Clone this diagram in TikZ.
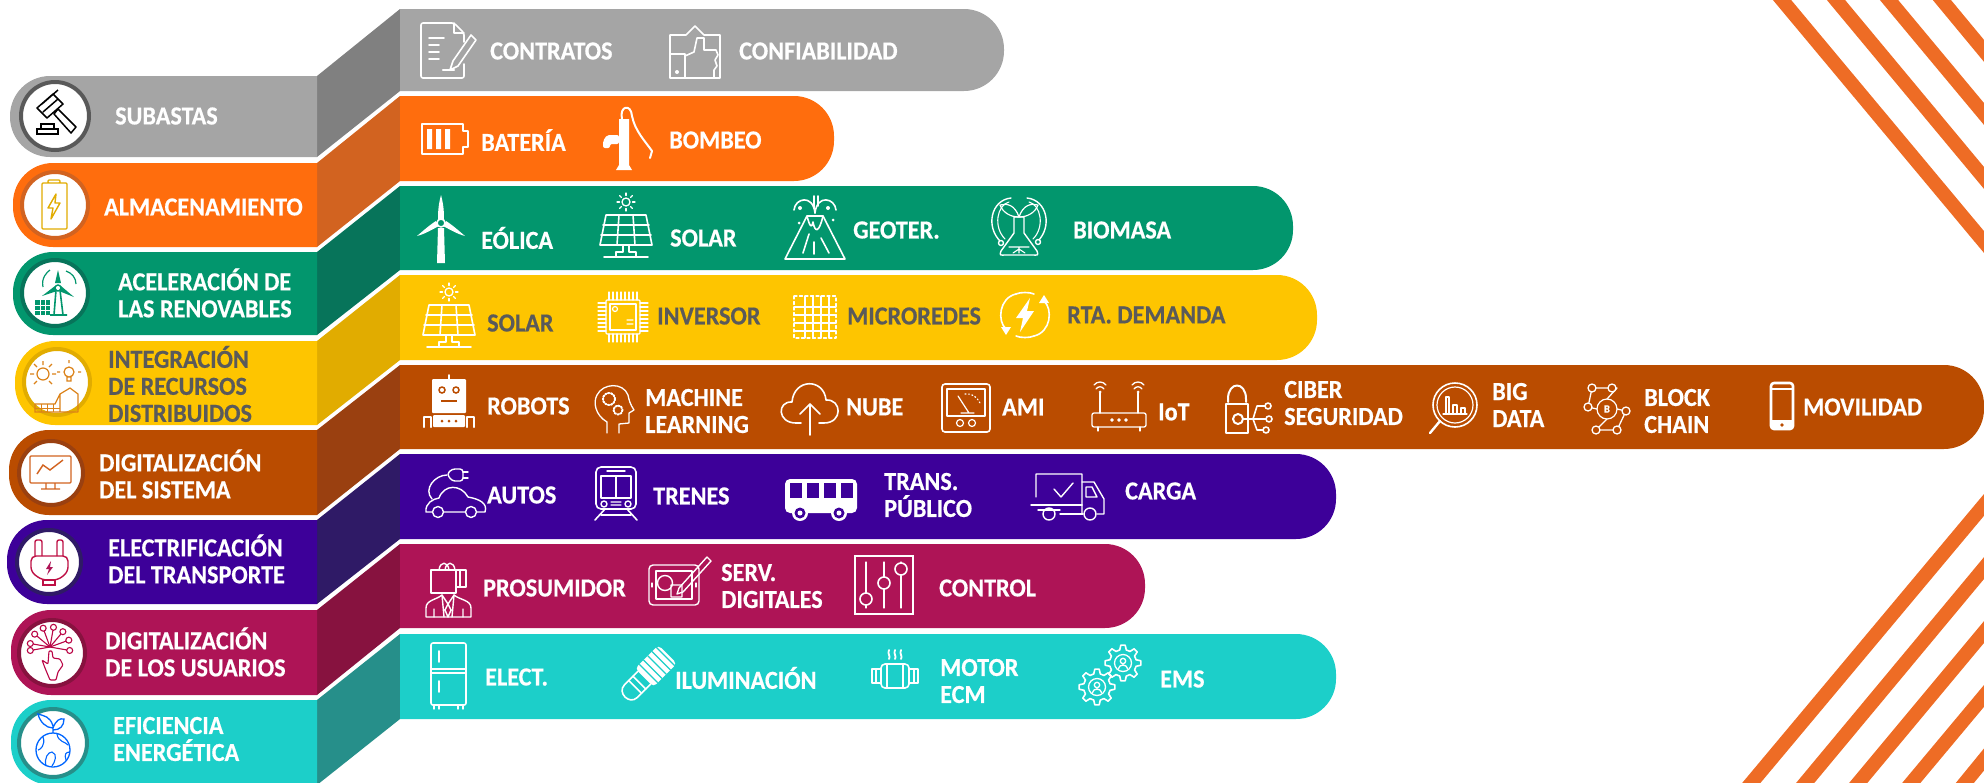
\documentclass[tikz,border=0pt]{standalone}
\usepackage{fontspec}
\setmainfont{Carlito}[FakeStretch=0.93,BoldFeatures={FakeBold=0.5}]
\usetikzlibrary{positioning}

\definecolor{grayband}{HTML}{A5A5A5}
\definecolor{grayside}{HTML}{808080}
\definecolor{orangeband}{HTML}{FF6D0D}
\definecolor{orangeside}{HTML}{D26320}
\definecolor{greenband}{HTML}{02966D}
\definecolor{greenside}{HTML}{07745A}
\definecolor{yellowband}{HTML}{FEC500}
\definecolor{yellowside}{HTML}{E1AC00}
\definecolor{brownband}{HTML}{BA4C00}
\definecolor{brownside}{HTML}{9A4010}
\definecolor{purpleband}{HTML}{3D0099}
\definecolor{purpleside}{HTML}{2F1A66}
\definecolor{magentaband}{HTML}{AE1456}
\definecolor{magentaside}{HTML}{87123F}
\definecolor{tealband}{HTML}{1CCFC9}
\definecolor{tealside}{HTML}{268F8A}
\definecolor{labelgray}{HTML}{5A5A5A}
\definecolor{stripecolor}{HTML}{EE6C25}

\tikzset{
  pill/.style={rounded corners=40pt},
  lbl/.style={anchor=west,inner sep=0pt,align=left,text=white,font=\fontsize{26}{27}\selectfont\bfseries},
  lbldark/.style={lbl,text=labelgray},
  ico/.style={draw=white,line width=1.6pt,line join=round,line cap=round},
  disc/.style={fill=white,line width=4pt},
  stripe/.style={draw=stripecolor,line width=14pt},
  pics/docicon/.style={code={
    \draw[ico,rounded corners=2pt] (15,-8) -- (15,-17) -- (5,-27) -- (-28,-27) -- (-28,28) -- (15,28) -- (15,14);
    \draw[ico] (5,-27) -- (5,-17) -- (15,-17);
    \draw[ico] (-20,-12) -- (-5,-12) (-20,-5) -- (-10,-5) (-20,2) -- (-10,2) (-20,9) -- (-10,9);
    \draw[ico,line width=2.4pt] (-6,20) -- (5,20);
    \draw[ico] (22,-15) -- (27,-10) -- (9,16) -- (1,20) -- (4,11) -- cycle;
  }},
  pics/thumbicon/.style={code={
    \draw[ico] (-25,-17) -- (-9,-17) -- (0,-26) -- (9,-17) -- (25,-17) -- (25,26) -- (-25,26) -- cycle;
    \draw[ico] (-25,2) -- (-10,2) -- (-10,26);
    \draw[ico] (-10,4) -- (-1,0) -- (2,-14) -- (9,-14) -- (9,-2) -- (21,-2) -- (23,3) -- (20,8) -- (22,14) -- (19,18) -- (19,26);
    \fill[white] (-18,20) circle (2);
  }},
  pics/battericon/.style={code={
    \draw[ico] (-25,-15) -- (16,-15) -- (16,-8) -- (21,-8) -- (21,8) -- (16,8) -- (16,15) -- (-25,15) -- cycle;
    \fill[white] (-20,-10) rectangle (-15,10) (-11,-10) rectangle (-6,10) (-2,-10) rectangle (3,10);
  }},
  pics/pumpicon/.style={code={
    \fill[white] (-6,-22) -- (4,-22) -- (4,24) -- (7,29) -- (-9,29) -- (-6,24) -- cycle;
    \fill[white,rounded corners=2pt] (-6,-6) -- (-18,-6) -- (-22,0) -- (-22,7) -- (-15,7) -- (-15,3) -- (-6,3) -- cycle;
    \draw[ico,line width=2pt] (-3,-22) .. controls (-6,-35) and (6,-38) .. (7,-25) .. controls (10,-10) and (20,0) .. (27,10) -- (25,17);
  }},
  pics/turbicon/.style={code={
    \fill[white] (-3,0) -- (3,0) -- (4,35) -- (-4,35) -- cycle;
    \fill[white] (0,-33) .. controls (3,-22) and (3,-14) .. (3,-8) -- (-3,-8) .. controls (-3,-14) and (-3,-22) .. (0,-33);
    \fill[white] (-24,8) .. controls (-17,2) and (-10,-4) .. (-5,-7) -- (-2,-2) .. controls (-8,1) and (-16,6) .. (-24,8);
    \fill[white] (24,8) .. controls (17,2) and (10,-4) .. (5,-7) -- (2,-2) .. controls (8,1) and (16,6) .. (24,8);
    \draw[ico,fill=greenband,draw=white] (0,-5) circle (4);
  }},
  pics/solaricon/.style={code={
    \draw[ico,line width=1.3pt] (0,-26) circle (4);
    \foreach \a in {0,45,...,315} \draw[ico,line width=1.3pt] (0,-26) ++(\a:6.5) -- ++(\a:2.5);
    \draw[ico] (-20,-13) -- (20,-13) -- (26,17) -- (-26,17) -- cycle;
    \draw[ico] (-23,-3) -- (23,-3) (-25,7) -- (25,7) (-7,-13) -- (-9,17) (7,-13) -- (9,17);
    \draw[ico] (-3,17) -- (-3,24) -- (-10,24) -- (-10,28) (3,17) -- (3,24) -- (10,24) -- (10,28);
    \draw[ico] (-22,29) -- (22,29);
  }},
  pics/volcanoicon/.style={code={
    \draw[ico] (-30,31) -- (-8,-12) -- (8,-12) -- (30,31) -- cycle;
    \draw[ico] (-8,-12) .. controls (-5,0) and (-3,0) .. (-2,-6) .. controls (0,5) and (4,5) .. (8,-12);
    \draw[ico] (-12,25) -- (-6,6) (-1,14) -- (-1,26) (6,10) -- (14,25);
    \draw[ico] (0,-15) .. controls (-2,-34) and (-20,-30) .. (-21,-18);
    \draw[ico] (0,-15) .. controls (2,-34) and (20,-30) .. (21,-18);
    \draw[ico] (-1,-20) -- (-1,-32) (3,-22) -- (3,-32);
    \fill[white] (-15,-20) circle (2) (13,-20) circle (2) (18,-8) circle (1.5) (-16,-5) circle (1.5);
  }},
  pics/biomassicon/.style={code={
    \draw[ico,line width=1.4pt] (-18,17) .. controls (-34,2) and (-28,-25) .. (-8,-27) (8,-27) .. controls (28,-25) and (34,2) .. (18,17);
    \draw[ico,line width=1.1pt] (-14,14) .. controls (-26,2) and (-22,-20) .. (-10,-23) (10,-23) .. controls (22,-20) and (26,2) .. (14,14);
    \draw[ico,line width=1.4pt,fill=greenband] (-18,18) circle (2.5) (19,17) circle (2.5);
    \draw[ico,line width=1.4pt] (-5,-8) -- (-5,8) -- (-18,26) .. controls (-20,31) and (-18,30) .. (-14,30) -- (14,30) .. controls (18,30) and (20,31) .. (18,26) -- (5,8) -- (5,-8) -- cycle;
    \draw[ico,line width=1.2pt] (0,-8) .. controls (-4,-20) and (-12,-22) .. (-19,-20) .. controls (-16,-12) and (-8,-8) .. (0,-8) .. controls (8,-8) and (16,-12) .. (19,-20) .. controls (12,-22) and (4,-20) .. (0,-8);
    \draw[ico,line width=1.1pt] (-10,22) -- (10,22) (0,22) -- (0,28) (-6,28) -- (0,24) -- (6,28);
  }},
  pics/chipicon/.style={code={
    \draw[ico,line width=1.2pt,rounded corners=1pt] (-17,-17) rectangle (17,17);
    \draw[ico,line width=1.2pt] (-13,-13) rectangle (13,13);
    \draw[ico,line width=1.2pt] (-8,-8) circle (2.5) (4,3) -- (10,3) (4,7) -- (10,7);
    \foreach \p in {-14,-10,...,14} {
      \draw[ico,line width=1.1pt] (\p,-17) -- (\p,-25) (\p,17) -- (\p,25);
      \draw[ico,line width=1.1pt] (-17,\p) -- (-25,\p) (17,\p) -- (25,\p);
    }
  }},
  pics/gridicon/.style={code={
    \draw[ico,line width=1.3pt,dash pattern=on 3pt off 2.5pt] (-21,-21) rectangle (21,21);
    \foreach \p in {-10,-2,6,14} \draw[ico,line width=1.1pt] (\p,-21) -- (\p,21) (-21,\p) -- (21,\p);
  }},
  pics/demandicon/.style={code={
    \draw[ico] (-9,-21) .. controls (-26,-17) and (-28,6) .. (-19,14);
    \draw[ico] (9,21) .. controls (26,17) and (28,-6) .. (19,-14);
    \draw[ico] (-9,21) .. controls (-5,23) and (5,23) .. (9,21) (-9,-21) .. controls (-5,-23) and (5,-23) .. (9,-21);
    \fill[white] (-24,12) -- (-14,12) -- (-19,20) -- cycle (24,-12) -- (14,-12) -- (19,-20) -- cycle;
    \fill[white] (5,-17) -- (-9,3) -- (-2,3) -- (-5,17) -- (9,-4) -- (2,-4) -- cycle;
  }},
  pics/roboticon/.style={code={
    \draw[ico] (0,-26) -- (0,-21);
    \fill[white,rounded corners=1pt] (-17,-22) rectangle (17,12);
    \draw[brownband,line width=1.5pt] (-7,-11) circle (3) (7,-11) circle (3);
    \draw[brownband,line width=2pt] (-8,0) -- (8,0);
    \fill[white,rounded corners=1pt] (-16,14) rectangle (16,26);
    \fill[brownband] (-7,20) circle (1.5) (0,20) circle (1.5) (7,20) circle (1.5);
    \draw[ico,line width=2.2pt] (-25,26) -- (-25,16) -- (-18,16) -- (-18,26) (25,26) -- (25,16) -- (18,16) -- (18,26);
  }},
  pics/headicon/.style={code={
    \draw[ico,line width=1.3pt] (-7,25) -- (-7,14) .. controls (-19,7) and (-21,-6) .. (-17,-13) .. controls (-11,-25) and (9,-26) .. (14,-13) .. controls (15,-8) and (16,-4) .. (20,2) -- (15,5) -- (15,15) -- (5,16) -- (5,25);
    \draw[ico,line width=2pt,dash pattern=on 1.5pt off 1.5pt] (-5,-9) circle (6) (4,2) circle (4.5);
  }},
  pics/cloudicon/.style={code={
    \draw[ico] (-9,15) -- (-14,15) .. controls (-33,15) and (-33,-7) .. (-18,-6) .. controls (-16,-30) and (14,-30) .. (16,-8) .. controls (32,-9) and (33,15) .. (14,15) -- (9,15);
    \draw[ico] (0,27) -- (0,-4) (-10,6) -- (0,-4) -- (10,6);
  }},
  pics/metericon/.style={code={
    \draw[ico,rounded corners=3pt] (-24,-24) rectangle (24,24);
    \draw[ico,line width=1.2pt] (-19,-19) rectangle (19,8);
    \draw[ico,line width=1.2pt] (-8,-12) -- (3,5) (-5,5) -- (8,5);
    \draw[ico,line width=1.2pt,dash pattern=on 1pt off 2.5pt] (-1,-14) .. controls (6,-15) and (11,-11) .. (14,-5);
    \draw[ico,line width=1.2pt] (-6,15) circle (3.5) (6,15) circle (3.5);
  }},
  pics/routericon/.style={code={
    \draw[ico,line width=1.3pt] (-19,-12) -- (-19,8) (19,-12) -- (19,8);
    \foreach \x in {-19,19} {
      \draw[ico,line width=1.3pt] (\x-6,-20) .. controls (\x-3,-24) and (\x+3,-24) .. (\x+6,-20);
      \draw[ico,line width=1.3pt] (\x-4,-16) .. controls (\x-2,-19) and (\x+2,-19) .. (\x+4,-16);
      \fill[white] (\x,-13) circle (1.5);
    }
    \draw[ico,line width=1.3pt,rounded corners=2pt] (-27,8) rectangle (27,22);
    \draw[ico,line width=1.2pt] (-7,15) circle (1.2) (0,15) circle (1.2) (7,15) circle (1.2);
    \draw[ico,line width=1.3pt] (-21,22) -- (-21,26) (21,22) -- (21,26);
  }},
  pics/lockicon/.style={code={
    \draw[ico,line width=2pt] (-21,-8) -- (-21,-11) .. controls (-21,-29) and (-3,-29) .. (-3,-11) -- (-3,-8);
    \draw[ico,line width=2pt] (-23,-6) rectangle (-1,23);
    \draw[ico,line width=2pt] (-11,9) circle (5);
    \draw[ico] (-6,9) -- (17,9) (4,9) -- (8,-4) -- (16,-4) (4,9) -- (8,20) -- (14,20);
    \draw[ico,fill=brownband] (20,9) circle (3) (19,-4) circle (3) (17,20) circle (3);
  }},
  pics/magicon/.style={code={
    \draw[ico] (0,0) circle (22);
    \draw[ico,line width=1.2pt] (0,0) circle (18);
    \draw[ico,line width=2.4pt] (-15,16) -- (-25,28);
    \draw[ico,line width=1.2pt] (-9,9) -- (-9,-8) -- (-6,-8) -- (-6,9) (-2,9) -- (-2,0) -- (2,0) -- (2,9) (6,9) -- (6,3) -- (10,3) -- (10,9) (-12,9) -- (12,9);
  }},
  pics/blockicon/.style={code={
    \draw[ico,line width=1.2pt] (0,0) circle (10);
    \node[text=white,inner sep=0pt,font=\fontsize{11}{11}\selectfont\bfseries] (blockb) at (0,0) {B};
    \draw[ico,line width=1.3pt] (-15,-21) -- (10,-21) -- (0,-10) (-15,-21) -- (-19,-2) -- (-10,0) (10,21) -- (-11,21) -- (0,10) (10,21) -- (19,2) -- (10,0);
    \foreach \p in {(-15,-21),(5,-21),(-19,-2),(19,2),(-11,21),(10,21)} \draw[ico,line width=1.3pt,fill=brownband] \p circle (4);
  }},
  pics/phoneicon/.style={code={
    \draw[ico,line width=2.6pt,rounded corners=3pt] (-11,-23) rectangle (11,23);
    \draw[ico,line width=1.3pt] (-11,-17) -- (11,-17) (-11,15) -- (11,15);
    \fill[white] (0,19) circle (2);
    \fill[white] (-11,15) rectangle (11,23) ;
    \fill[brownband] (0,19) circle (1.8);
  }},
  pics/caricon/.style={code={
    \draw[ico,line width=1.4pt] (-23,19) -- (-29,19) .. controls (-30,10) and (-22,6) .. (-16,5) .. controls (-11,-9) and (6,-9) .. (13,4) .. controls (24,6) and (33,10) .. (30,19) -- (22,19) (-11,19) -- (10,19);
    \draw[ico,line width=1.4pt] (-17,19) circle (5.5) (16,19) circle (5.5);
    \draw[ico,line width=1.4pt] (-23,6) .. controls (-32,-4) and (-20,-18) .. (-8,-18);
    \draw[ico,line width=1.4pt,rounded corners=3pt] (8,-24) -- (-3,-24) -- (-8,-19) -- (-3,-12) -- (8,-12) -- cycle;
    \draw[ico,line width=1.4pt] (8,-21) -- (13,-21) (8,-15) -- (13,-15);
  }},
  pics/trainicon/.style={code={
    \draw[ico,rounded corners=5pt] (-20,-27) rectangle (20,15);
    \draw[ico,line width=1.4pt] (-15,-18) rectangle (15,4) (0,-18) -- (0,4) (-9,-23) -- (9,-23);
    \draw[ico,line width=1.4pt] (-12,10) circle (3) (12,10) circle (3) (-5,8) -- (5,8) (-5,11) -- (5,11);
    \draw[ico] (-11,15) -- (-21,26) (11,15) -- (21,26) (-15,21) -- (15,21);
  }},
  pics/busicon/.style={code={
    \fill[white,rounded corners=5pt] (-36,-19) rectangle (36,15);
    \foreach \x in {-25,-8,9,26} \fill[purpleband] (\x-6,-15) rectangle (\x+6,0);
    \foreach \x in {-21,18} {
      \fill[white] (\x,15) circle (8);
      \fill[purpleband] (\x,15) circle (5.5);
      \fill[white] (\x,15) circle (2.5);
    }
  }},
  pics/truckicon/.style={code={
    \draw[ico,line width=1.4pt] (-32,0) -- (-32,-23) -- (14,-23) -- (14,8) (-14,-8) -- (-7,0) -- (5,-14);
    \draw[ico,line width=1.4pt] (14,-15) -- (26,-15) -- (36,2) -- (36,17) -- (29,17) (14,17) -- (14,8) (18,-10) -- (24,-10) -- (29,0) -- (18,0) -- cycle;
    \draw[ico,line width=1.4pt] (-37,8) -- (-10,8) (-10,8) -- (14,8) (-30,13) -- (-8,13) (-8,17) -- (15,17);
    \draw[ico,line width=1.4pt] (-19,17) circle (6) (22,17) circle (6);
  }},
  pics/personicon/.style={code={
    \draw[ico,line width=1.4pt] (-17,-20) rectangle (8,3);
    \draw[ico,line width=1.4pt] (8,-20) -- (18,-20) -- (18,-3) -- (8,-3) (12,-20) -- (12,-3);
    \draw[ico,line width=1.4pt] (-9,-20) .. controls (-8,-29) and (0,-29) .. (1,-20) (-3,-20) .. controls (-2,-29) and (6,-29) .. (7,-20);
    \draw[ico,line width=1.4pt] (-22,27) -- (-22,18) .. controls (-22,10) and (-12,10) .. (-6,5) -- (0,14) -- (6,5) .. controls (12,10) and (23,10) .. (23,18) -- (23,27) -- cycle;
    \draw[ico,line width=1.4pt] (-6,5) -- (-4,27) (6,5) -- (4,27) (-14,27) -- (-14,19) (15,27) -- (15,19) (0,14) -- (-3,20) -- (0,27) -- (3,20) -- cycle;
  }},
  pics/tableticon/.style={code={
    \draw[ico,line width=1.4pt,rounded corners=4pt] (-25,-20) rectangle (25,20);
    \draw[ico,line width=1.2pt] (-18,-14) rectangle (18,14);
    \draw[ico,line width=1.4pt] (-9,-2) circle (7.5) (-3,0) rectangle (8,12);
    \draw[ico,line width=1.4pt] (5,3) -- (33,-28) -- (37,-24) -- (9,7) -- (3,9) -- cycle;
    \draw[ico,line width=1.2pt] (-22,-2) -- (-22,2) (22,-2) -- (22,2);
  }},
  pics/slidericon/.style={code={
    \draw[ico,line join=miter] (-29,-29) rectangle (29,29);
    \foreach \x/\k in {-18/14,0/-2,17/-16} {
      \draw[ico,line width=1.3pt] (\x,-23) -- (\x,23);
      \draw[ico,fill=magentaband] (\x,\k) circle (6);
    }
  }},
  pics/fridgeicon/.style={code={
    \draw[ico,rounded corners=2pt] (-17,-32) rectangle (18,30);
    \draw[ico,line width=1.3pt] (-17,-6) -- (18,-6) (-17,-2) -- (18,-2);
    \draw[ico,line width=1.6pt] (-9,-24) -- (-9,-13) (-9,6) -- (-9,17);
    \draw[ico,line width=1.4pt] (-14,30) -- (-14,34) (-9,30) -- (-9,34) (10,30) -- (10,34) (15,30) -- (15,34);
  }},
  pics/bulbicon/.style={code={
    \begin{scope}[rotate=45]
    \fill[white,rounded corners=4pt] (-1,-13) rectangle (32,13);
    \foreach \x in {5,11,...,29} \draw[tealband,line width=1.3pt] (\x,-13) -- (\x,13);
    \draw[ico] (-1,-9) -- (-20,-9) .. controls (-31,-9) and (-31,9) .. (-20,9) -- (-1,9);
    \draw[ico] (-14,-9) -- (-14,9) (-8,-9) -- (-8,9);
    \end{scope}
  }},
  pics/motoricon/.style={code={
    \draw[ico,rounded corners=4pt] (-14,-12) rectangle (14,12);
    \draw[ico] (-14,-7) -- (-23,-7) -- (-23,7) -- (-14,7) (14,-7) -- (23,-7) -- (23,7) -- (14,7);
    \draw[ico,line width=1.3pt] (-19,-7) -- (-19,7) (19,-7) -- (19,7) (-8,-12) -- (-8,12) (8,-12) -- (8,12);
    \draw[ico,line width=1.8pt] (-6,-26) .. controls (-8,-22) and (-4,-20) .. (-6,-17) (0,-26) .. controls (-2,-22) and (2,-20) .. (0,-17) (6,-26) .. controls (4,-22) and (8,-20) .. (6,-17);
  }},
  pics/gearicon/.style={code={
    \fill[tealband] (0,0) circle (14);
    \foreach \a in {0,45,...,315}
      \draw[ico] (\a-14:13.5) -- (\a-7:18) -- (\a+7:18) -- (\a+14:13.5) -- (\a+31:13.5);
    \draw[ico,line width=1.3pt] (0,0) circle (8.5);
    \draw[ico,line width=1.3pt] (0,-2) circle (2.7) (-4.5,5.5) .. controls (-4,1) and (4,1) .. (4.5,5.5);
  }},
}

\begin{document}
\begin{tikzpicture}[x=1pt,y=-1pt]
    \useasboundingbox (0,0) rectangle (1984,782);
    \clip (0,0) rectangle (1984,782);

    %%% Side faces %%%
    \fill[grayside] (317,76) -- (400,9) -- (400,91) -- (317,157) -- cycle;
    \fill[orangeside] (317,163) -- (400,96) -- (400,181) -- (317,247) -- cycle;
    \fill[greenside] (317,252) -- (400,186) -- (400,270) -- (317,335) -- cycle;
    \fill[yellowside] (317,341) -- (400,275) -- (400,360) -- (317,425) -- cycle;
    \fill[brownside] (317,430) -- (400,365) -- (400,449) -- (317,515) -- cycle;
    \fill[purpleside] (317,520) -- (400,454) -- (400,539) -- (317,604) -- cycle;
    \fill[magentaside] (317,610) -- (400,544) -- (400,628) -- (317,695) -- cycle;
    \fill[tealside] (317,700) -- (400,634) -- (400,719) -- (317,785) -- cycle;

    %%% Left bands %%%
    \fill[grayband,pill] (317,76) -- (10,76) -- (10,157) -- (317,157);
    \fill[orangeband,pill] (317,163) -- (13,163) -- (13,247) -- (317,247);
    \fill[greenband,pill] (317,252) -- (13,252) -- (13,335) -- (317,335);
    \fill[yellowband,pill] (317,341) -- (15,341) -- (15,425) -- (317,425);
    \fill[brownband,pill] (317,430) -- (9,430) -- (9,515) -- (317,515);
    \fill[purpleband,pill] (317,520) -- (7,520) -- (7,604) -- (317,604);
    \fill[magentaband,pill] (317,610) -- (11,610) -- (11,695) -- (317,695);
    \fill[tealband,pill] (317,700) -- (11,700) -- (11,785) -- (317,785);

    %%% Right bands %%%
    \fill[grayband,pill] (400,9) -- (1004,9) -- (1004,91) -- (400,91);
    \fill[orangeband,pill] (400,96) -- (834,96) -- (834,181) -- (400,181);
    \fill[greenband,pill] (400,186) -- (1293,186) -- (1293,270) -- (400,270);
    \fill[yellowband,pill] (400,275) -- (1317,275) -- (1317,360) -- (400,360);
    \fill[brownband,pill] (400,365) -- (1984,365) -- (1984,449) -- (400,449);
    \fill[purpleband,pill] (400,454) -- (1336,454) -- (1336,539) -- (400,539);
    \fill[magentaband,pill] (400,544) -- (1145,544) -- (1145,628) -- (400,628);
    \fill[tealband,pill] (400,634) -- (1336,634) -- (1336,719) -- (400,719);

    %%% Discs %%%
    \draw[disc,draw=black!65] (55,116) circle (34);
    \draw[disc,draw=orangeside] (55,205) circle (33);
    \draw[disc,draw=greenside] (55,293) circle (33);
    \draw[disc,draw=yellowside] (57,382) circle (33);
    \draw[disc,draw=brownside] (51,473) circle (32);
    \draw[disc,draw=purpleside] (49,562) circle (32);
    \draw[disc,draw=magentaside] (52,653) circle (33);
    \draw[disc,draw=tealside] (53,743) circle (34);

    %%% Disc icons %%%
    % gavel
    \draw[black,line width=1.5pt,line join=round] (37,108) -- (53,94) -- (63,104) -- (47,118) -- cycle (42,104) -- (58,90) (43,112) -- (58,99);
    \draw[black,line width=1.5pt,line join=round] (54,114) -- (58,109) -- (76,127) -- (71,133) -- cycle;
    \draw[black,line width=1.5pt] (37,129) rectangle (58,134) (41,124) rectangle (54,129);
    % battery
    \draw[yellowside,line width=1.4pt,rounded corners=1pt] (42,183) rectangle (67,229) (48,180) rectangle (60,183);
    \draw[yellowside,line width=1.4pt,line join=round] (56,194) -- (48,208) -- (53,208) -- (51,219) -- (60,203) -- (55,203) -- cycle;
    % turbine and panel
    \draw[greenband,line width=1.6pt] (56,290) -- (54,315) (60,290) -- (63,315) (50,315) -- (67,315);
    \fill[greenband] (58,270) -- (61,283) -- (55,283) -- cycle (42,296) -- (55,286) -- (57,291) -- cycle (74,297) -- (61,286) -- (59,291) -- cycle;
    \draw[greenband,line width=1.4pt] (58,288) circle (3);
    \draw[greenband,line width=1.2pt] (43,287) .. controls (41,278) and (47,272) .. (50,270) (66,271) .. controls (72,273) and (76,278) .. (76,284);
    \fill[greenband] (35,300) rectangle (50,315);
    \draw[white,line width=0.8pt] (35,305) -- (50,305) (35,310) -- (50,310) (40,300) -- (40,315) (45,300) -- (45,315);
    % resources
    \draw[orangeside!80!yellow,line width=1.2pt] (43,374) circle (6) (37,367) -- (34,364) (49,367) -- (52,364) (43,365) -- (43,361) (37,381) -- (34,384) (49,381) -- (52,384) (34,374) -- (30,374) (52,374) -- (56,374);
    \draw[orangeside!80!yellow,line width=1.2pt] (69,372) circle (5) (67,377) -- (71,377) -- (71,381) -- (67,381) -- cycle (69,363) -- (69,360) (60,372) -- (57,372) (78,372) -- (81,372);
    \draw[orangeside!80!yellow,line width=1.2pt] (35,412) -- (35,404) -- (55,404) -- (60,394) -- (70,388) -- (78,394) -- (78,412) (60,412) -- (60,394) (35,404) -- (35,412) -- (60,412) -- (78,412);
    \draw[orangeside!80!yellow,line width=1pt] (41,404) -- (41,412) (47,404) -- (47,412) (53,404) -- (53,412) (35,408) -- (60,408);
    % monitor
    \draw[orangeside,line width=1.4pt,rounded corners=1pt] (30,456) rectangle (71,483);
    \draw[orangeside,line width=1.4pt] (37,474) -- (43,465) -- (50,470) -- (63,460) (46,483) -- (46,489) (55,483) -- (55,489) (41,489) -- (60,489);
    % plug
    \draw[magentaband!80!red,line width=1.4pt,rounded corners=5pt] (31,556) -- (68,556) -- (68,572) -- (58,580) -- (42,580) -- (31,572) -- cycle;
    \draw[magentaband!80!red,line width=1.4pt,rounded corners=2pt] (35,556) -- (35,540) -- (42,540) -- (42,556) (57,556) -- (57,540) -- (63,540) -- (63,556);
    \draw[magentaband!80!red,line width=1.4pt] (43,580) rectangle (55,585);
    \fill[magentaband] (51,561) -- (46,569) -- (49,569) -- (47,575) -- (53,567) -- (50,567) -- cycle;
    % hand network
    \foreach \a in {-170,-140,...,-10,10,170} \draw[purple!70!magentaband,line width=1.1pt] (50,647) -- ++(\a:17);
    \foreach \a in {-170,-140,...,-10,10,170} \draw[purple!70!magentaband,line width=1.1pt,fill=white] (50,647) ++(\a:20) circle (3);
    \draw[purple!70!magentaband,line width=1.1pt,rounded corners=1pt] (50,680) -- (45,668) -- (42,660) -- (48,664) -- (49,651) -- (52,651) -- (53,658) -- (60,659) -- (63,665) -- (58,672) -- (56,680) -- cycle;
    % globe
    \draw[blue!60!cyan,line width=1.3pt] (53,750) circle (17);
    \draw[blue!60!cyan,line width=1.1pt] (43,737) .. controls (46,745) and (40,750) .. (38,750) (46,766) .. controls (44,758) and (48,752) .. (52,752) .. controls (58,754) and (55,762) .. (52,766) (57,734) .. controls (58,742) and (66,742) .. (68,745) (66,760) .. controls (64,754) and (66,752) .. (70,752);
    \draw[blue!60!cyan,line width=1.3pt] (53,733) -- (53,726) (53,726) .. controls (50,716) and (44,716) .. (38,714) .. controls (40,722) and (46,728) .. (53,728) (53,728) .. controls (56,720) and (60,718) .. (64,719) .. controls (64,726) and (60,730) .. (53,730);

    %%% Left labels %%%
    \node[lbl] (subastas) at (115,116) {SUBASTAS};
    \node[lbl] (almacen) at (104,207) {ALMACENAMIENTO};
    \node[lbl] (aceleracion) at (118,293) {ACELERACIÓN DE\\LAS RENOVABLES};
    \node[lbldark] (integracion) at (108,384) {INTEGRACIÓN\\DE RECURSOS\\DISTRIBUIDOS};
    \node[lbl] (digsistema) at (99,474) {DIGITALIZACIÓN\\DEL SISTEMA};
    \node[lbl] (electrif) at (108,559) {ELECTRIFICACIÓN\\DEL TRANSPORTE};
    \node[lbl] (digusuarios) at (105,652) {DIGITALIZACIÓN\\DE LOS USUARIOS};
    \node[lbl] (eficiencia) at (113,739) {EFICIENCIA\\ENERGÉTICA};

    %%% Right icons and labels %%%
    % Row 1
    \pic at (449,50) {docicon};
    \node[lbl] (contratos) at (490,51) {CONTRATOS};
    \pic at (695,52) {thumbicon};
    \node[lbl] (confiabilidad) at (739,51) {CONFIABILIDAD};
    % Row 2
    \pic at (447,139) {battericon};
    \node[lbl] (bateria) at (481,140) {BATERÍA};
    \pic at (625,141) {pumpicon};
    \node[lbl] (bombeo) at (669,140) {BOMBEO};
    % Row 3
    \pic at (441,228) {turbicon};
    \node[lbl] (eolica) at (481,238) {EÓLICA};
    \pic at (626,228) {solaricon};
    \node[lbl] (solarb) at (670,238) {SOLAR};
    \pic at (815,228) {volcanoicon};
    \node[lbl] (geoter) at (853,230) {GEOTER.};
    \pic at (1019,225) {biomassicon};
    \node[lbl] (biomasa) at (1073,230) {BIOMASA};
    % Row 4
    \pic at (449,318) {solaricon};
    \node[lbldark] (solara) at (487,323) {SOLAR};
    \pic at (623,317) {chipicon};
    \node[lbldark] (inversor) at (657,316) {INVERSOR};
    \pic at (815,317) {gridicon};
    \node[lbldark] (microredes) at (847,316) {MICROREDES};
    \pic at (1025,315) {demandicon};
    \node[lbldark] (demanda) at (1067,315) {RTA. DEMANDA};
    % Row 5
    \pic at (449,401) {roboticon};
    \node[lbl] (robots) at (487,406) {ROBOTS};
    \pic at (614,408) {headicon};
    \node[lbl] (machine) at (645,411) {MACHINE\\LEARNING};
    \pic at (810,408) {cloudicon};
    \node[lbl] (nube) at (846,407) {NUBE};
    \pic at (966,408) {metericon};
    \node[lbl] (ami) at (1002,407) {AMI};
    \pic at (1119,405) {routericon};
    \node[lbl] (iot) at (1158,412) {IoT};
    \pic at (1249,410) {lockicon};
    \node[lbl] (ciber) at (1284,403) {CIBER\\SEGURIDAD};
    \pic at (1455,405) {magicon};
    \node[lbl] (bigdata) at (1492,405) {BIG\\DATA};
    \pic at (1607,409) {blockicon};
    \node[lbl] (blockchain) at (1644,411) {BLOCK\\CHAIN};
    \pic at (1782,406) {phoneicon};
    \node[lbl] (movilidad) at (1803,407) {MOVILIDAD};
    % Row 6
    \pic at (455,493) {caricon};
    \node[lbl] (autos) at (487,495) {AUTOS};
    \pic at (616,494) {trainicon};
    \node[lbl] (trenes) at (653,496) {TRENES};
    \pic at (821,498) {busicon};
    \node[lbl] (publico) at (884,495) {TRANS.\\PÚBLICO};
    \pic at (1068,497) {truckicon};
    \node[lbl] (carga) at (1125,491) {CARGA};
    % Row 7
    \pic at (448,590) {personicon};
    \node[lbl] (prosumidor) at (483,588) {PROSUMIDOR};
    \pic at (674,585) {tableticon};
    \node[lbl] (digitales) at (721,586) {SERV.\\DIGITALES};
    \pic at (884,585) {slidericon};
    \node[lbl] (control) at (939,588) {CONTROL};
    % Row 8
    \pic at (448,675) {fridgeicon};
    \node[lbl] (elect) at (485,677) {ELECT.};
    \pic at (645,677) {bulbicon};
    \node[lbl] (iluminacion) at (675,678) {ILUMINACIÓN};
    \pic at (895,676) {motoricon};
    \node[lbl] (motor) at (940,681) {MOTOR\\ECM};
    \pic at (1123,663) {gearicon};
    \pic at (1097,687) {gearicon};
    \node[lbl] (ems) at (1160,679) {EMS};

    %%% Corner stripes %%%
    \foreach \a/\b in {1782/242,1836/178,1889/114,1942/51}
      \draw[stripe] (\a-20,-24) -- (2004,\b+24);
    \foreach \a/\b in {1752/505,1806/568,1859/632,1912/696,1966/759}
      \draw[stripe] (\a-20,806) -- (2004,\b-24);
\end{tikzpicture}
\end{document}
